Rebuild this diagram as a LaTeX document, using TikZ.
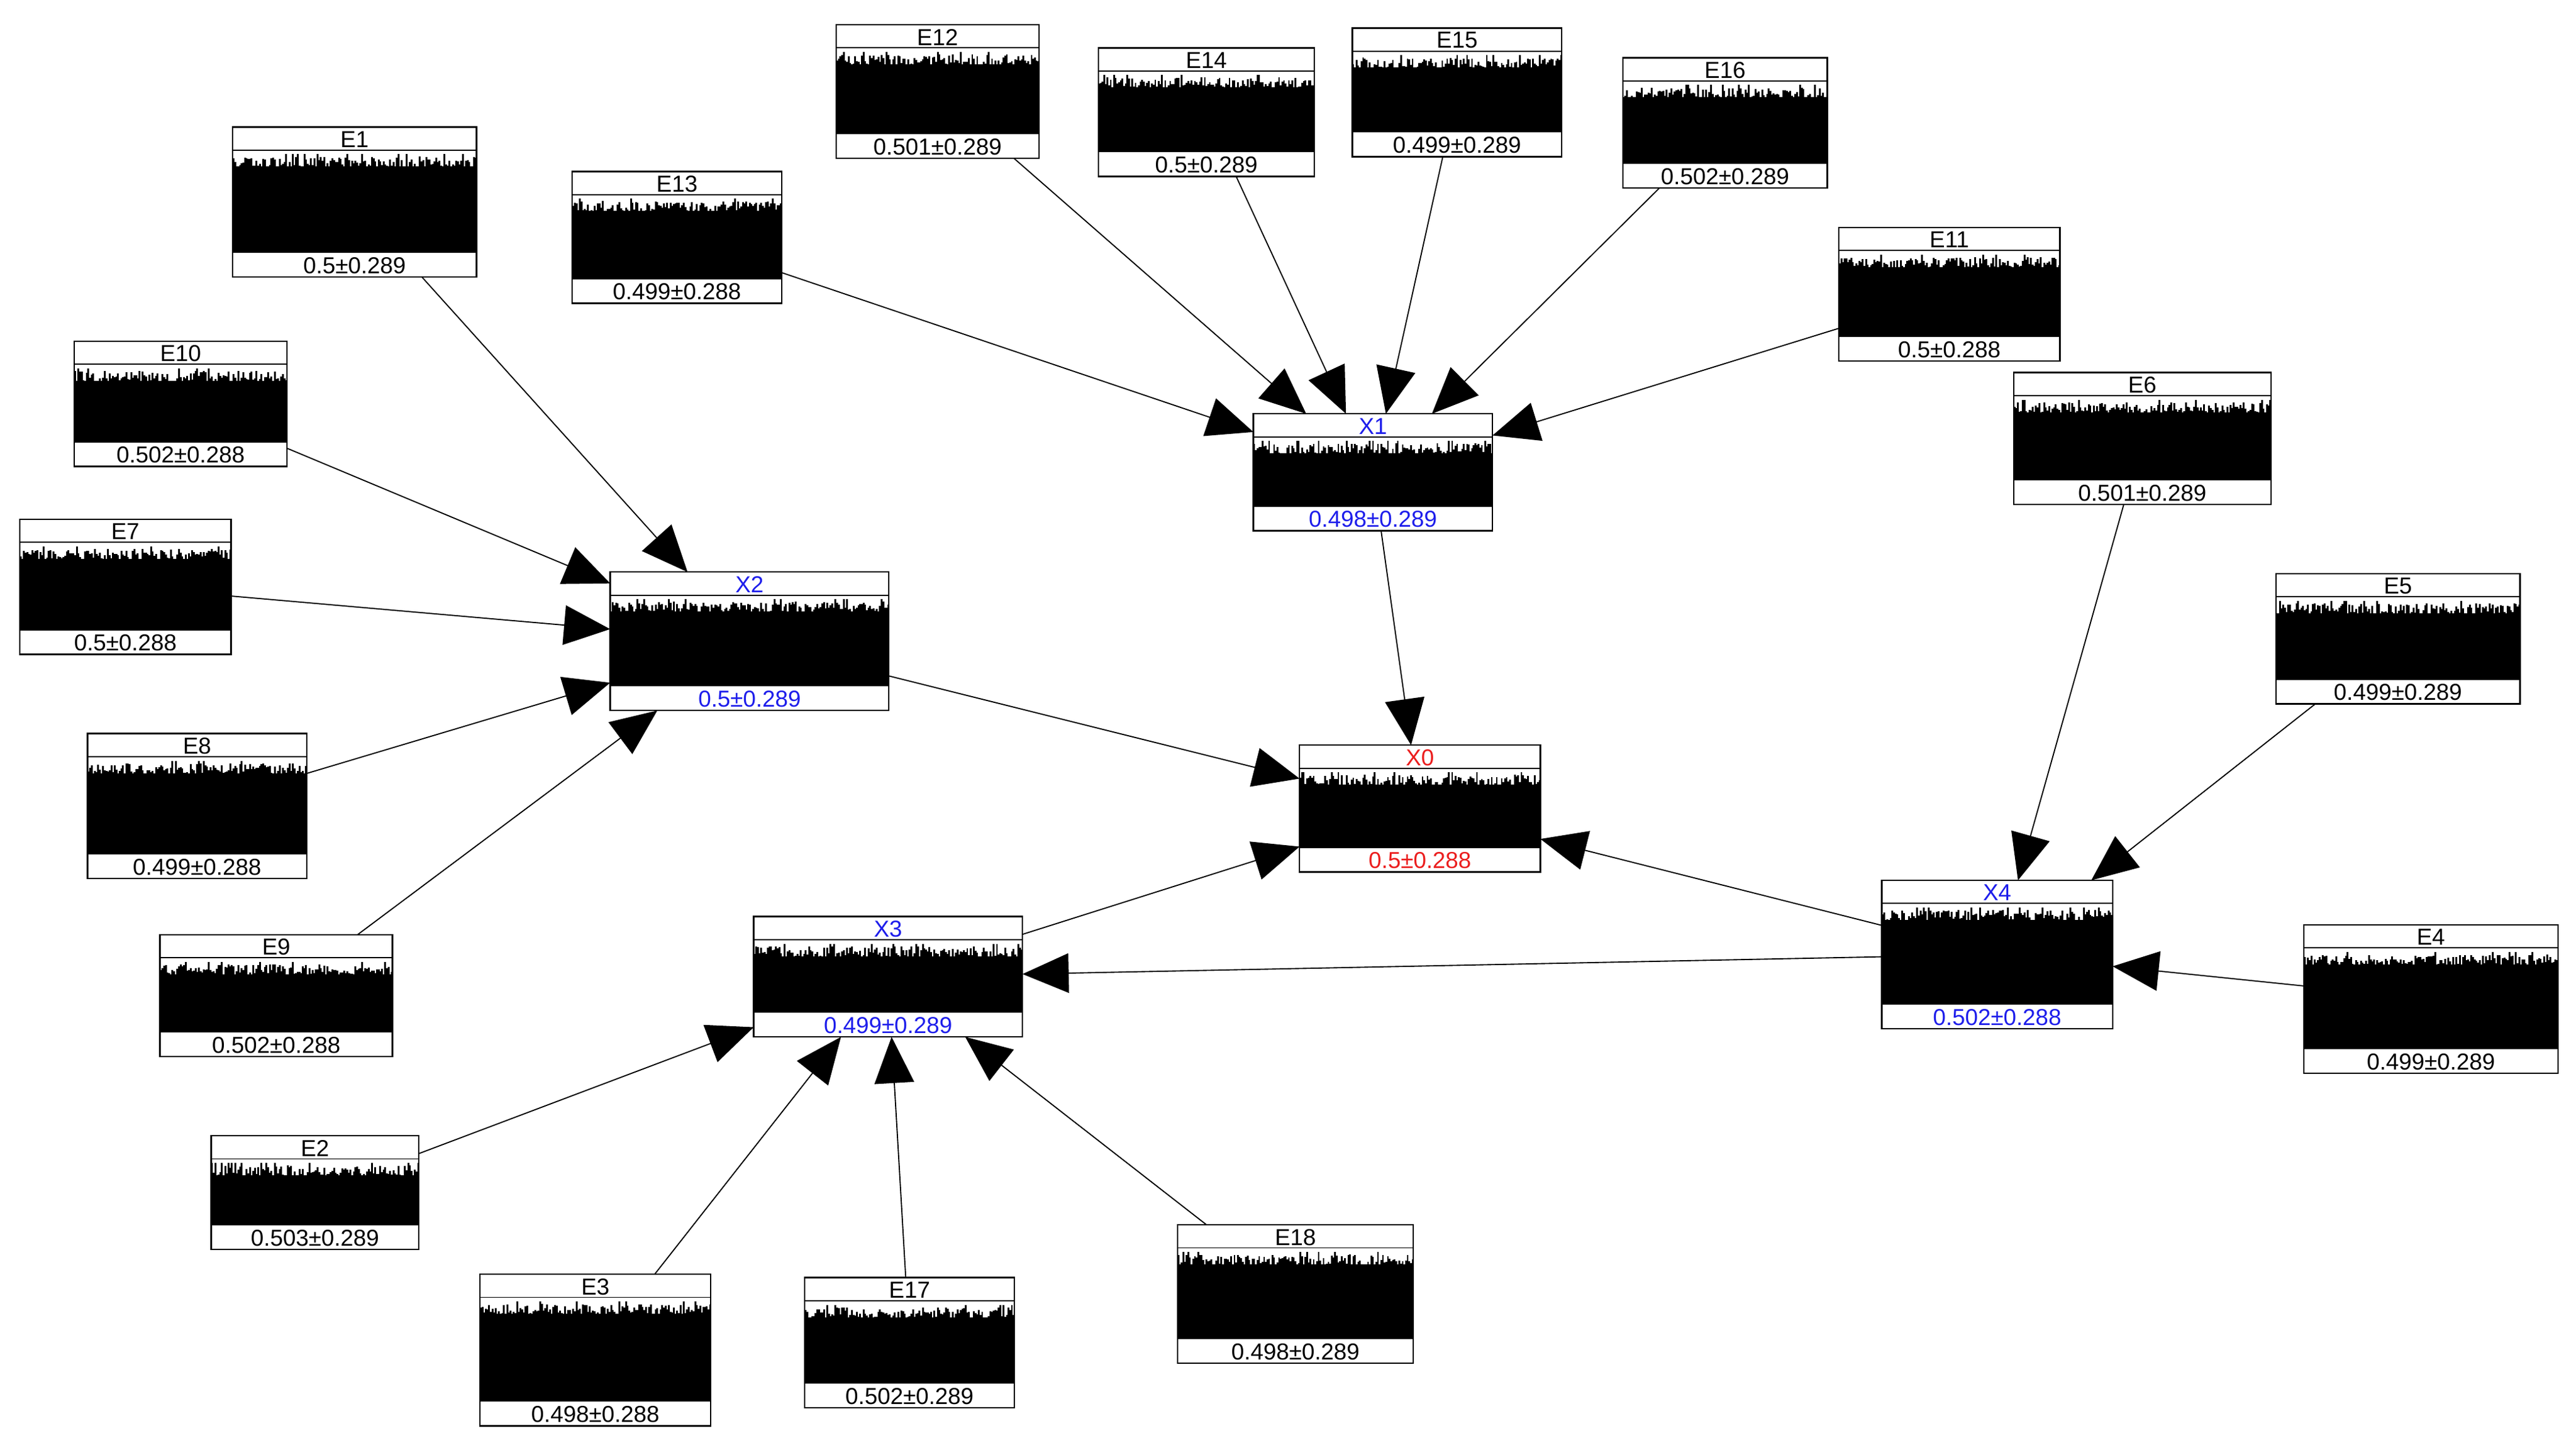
\documentclass[tikz,border=0pt]{standalone}
\usepackage{fontspec}
\setmainfont{Liberation Sans}
\usetikzlibrary{arrows.meta}
\definecolor{vb}{RGB}{30,30,235}
\definecolor{vr}{RGB}{235,30,30}
\newcommand\bx[8]{%
 \pgfmathsetmacro\cx{(#4+#6)/2}\pgfmathsetmacro\cy{-(#5+#7)/2}%
 \pgfmathsetmacro\w{#6-#4}\pgfmathsetmacro\h{#7-#5}%
 \pgfmathtruncatemacro\xa{#4}\pgfmathtruncatemacro\xb{#4+1}\pgfmathtruncatemacro\xe{#6-1}%
 \fill (#4,-#7+15) rectangle (#6,-#5-24);
 \foreach \x in {\xa,\xb,...,\xe}{\pgfmathsetmacro\yy{rnd<0.06 ? #5+16.5 : #5+18+7*rnd}\fill (\x,-#7+15) rectangle (\x+1.1,-\yy);}
 \draw[line width=0.7pt] (#4,-#5-14) -- (#6,-#5-14);
 \draw[line width=0.7pt] (#4,-#7+15) -- (#6,-#7+15);
 \node[box,minimum width=\w pt,minimum height=\h pt] (#1) at (\cx,\cy) {};
 \node[lbl,text=#8] at (\cx,-#5-7.5) {#2};
 \node[lbl,text=#8] at (\cx,-#7+7) {#3};
}
\begin{document}
\begin{tikzpicture}[x=1pt,y=1pt,
 box/.style={draw,line width=0.9pt,inner sep=0,outer sep=0},
 lbl/.style={inner sep=0,font=\fontsize{14}{14}\selectfont},
 ar/.style={line width=0.7pt,-{Triangle[length=28pt,width=24pt]}}]
\pgfmathsetseed{7}
\useasboundingbox (0,0) rectangle (1562,-872);
\bx{E1}{E1}{0.5±0.289}{141}{77}{289}{168}{black}
\bx{E13}{E13}{0.499±0.288}{347}{104}{474}{184}{black}
\bx{E12}{E12}{0.501±0.289}{507}{15}{630}{96}{black}
\bx{E14}{E14}{0.5±0.289}{666}{29}{797}{107}{black}
\bx{E15}{E15}{0.499±0.289}{820}{17}{947}{95}{black}
\bx{E16}{E16}{0.502±0.289}{984}{35}{1108}{114}{black}
\bx{E11}{E11}{0.5±0.288}{1115}{138}{1249}{219}{black}
\bx{E6}{E6}{0.501±0.289}{1221}{226}{1377}{306}{black}
\bx{E5}{E5}{0.499±0.289}{1380}{348}{1528}{427}{black}
\bx{E4}{E4}{0.499±0.289}{1397}{561}{1551}{651}{black}
\bx{X4}{X4}{0.502±0.288}{1141}{534}{1281}{624}{vb}
\bx{X0}{X0}{0.5±0.288}{788}{452}{934}{529}{vr}
\bx{X1}{X1}{0.498±0.289}{760}{251}{905}{322}{vb}
\bx{X2}{X2}{0.5±0.289}{370}{347}{539}{431}{vb}
\bx{X3}{X3}{0.499±0.289}{457}{556}{620}{629}{vb}
\bx{E10}{E10}{0.502±0.288}{45}{207}{174}{283}{black}
\bx{E7}{E7}{0.5±0.288}{12}{315}{140}{397}{black}
\bx{E8}{E8}{0.499±0.288}{53}{445}{186}{533}{black}
\bx{E9}{E9}{0.502±0.288}{97}{567}{238}{641}{black}
\bx{E2}{E2}{0.503±0.289}{128}{689}{254}{758}{black}
\bx{E3}{E3}{0.498±0.288}{291}{773}{431}{865}{black}
\bx{E17}{E17}{0.502±0.289}{488}{775}{615}{854}{black}
\bx{E18}{E18}{0.498±0.289}{714}{743}{857}{827}{black}
\foreach \a/\b in {E1/X2,E10/X2,E7/X2,E8/X2,E9/X2,E13/X1,E12/X1,E14/X1,E15/X1,E16/X1,E11/X1,X1/X0,X2/X0,X3/X0,X4/X0,X4/X3,E6/X4,E5/X4,E4/X4,E2/X3,E3/X3,E17/X3,E18/X3}
  \draw[ar] (\a) -- (\b);
\end{tikzpicture}
\end{document}
